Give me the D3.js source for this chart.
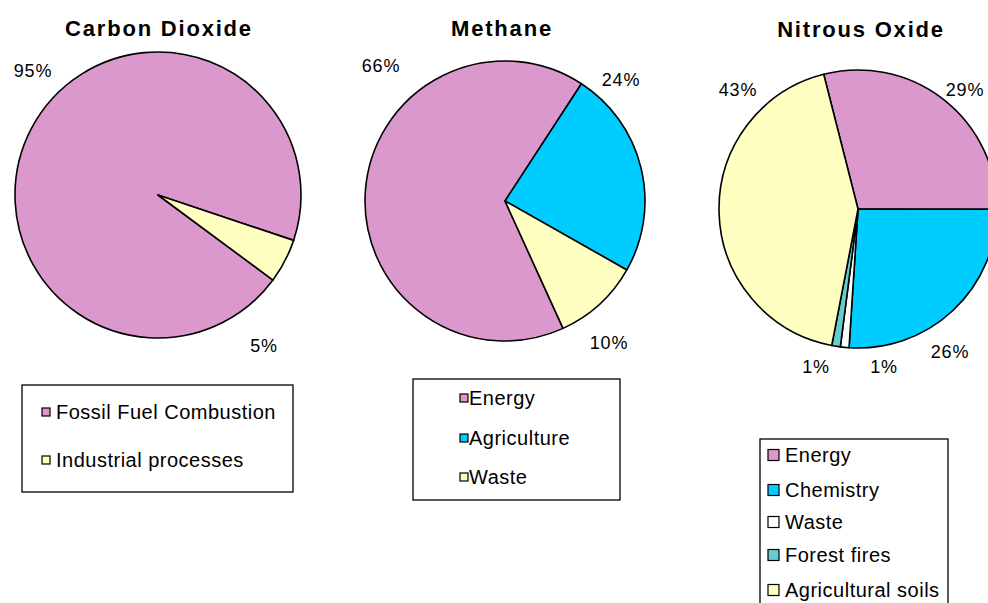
<!DOCTYPE html>
<html>
<head>
<meta charset="utf-8">
<script src="https://cdn.jsdelivr.net/npm/d3@7"></script>
<style>
  html, body { margin: 0; padding: 0; background: #fff; overflow: hidden; }
  svg { display: block; }
  text { font-family: "Liberation Sans", Arial, sans-serif; fill: #000; }
</style>
</head>
<body>
<svg id="chart" width="988" height="603"></svg>
<script>
// Greenhouse gas emissions by source (share of each gas, %)
const co2Categories = ["Fossil Fuel Combustion", "Industrial processes"];
const co2Values = [95, 5];

const ch4Categories = ["Energy", "Agriculture", "Waste"];
const ch4Values = [66, 24, 10];

const n2oCategories = ["Energy", "Chemistry", "Waste", "Forest fires", "Agricultural soils"];
const n2oValues = [29, 26, 1, 1, 43];

const colorBySource = {
  "Fossil Fuel Combustion": "#DB98CC",
  "Industrial processes": "#FFFFC2",
  "Energy": "#DB98CC",
  "Agriculture": "#00CCFF",
  "Chemistry": "#00CCFF",
  "Waste": "#FFFFFF",
  "Forest fires": "#66CCCC",
  "Agricultural soils": "#FFFFC2"
};
const ch4Colors = { "Waste": "#FFFFC2" };

const svg = d3.select("#chart");
const deg = Math.PI / 180;

const panels = [
  {
    title: "Carbon Dioxide", titleX: 159, titleY: 36,
    categories: co2Categories, values: co2Values,
    cx: 158, cy: 195, r: 143, start: 126.5,
    labels: [[33, 77], [264, 352]],
    legend: { x: 22, y: 385, w: 271, h: 107, sw: 8, itemX: 42, textX: 56, rows: [412, 460] }
  },
  {
    title: "Methane", titleX: 502, titleY: 36,
    categories: ch4Categories, values: ch4Values, override: ch4Colors,
    cx: 505, cy: 201, r: 140, start: 155.5,
    labels: [[381, 72], [621, 86], [609, 349]],
    legend: { x: 413, y: 379, w: 207, h: 121, sw: 8, itemX: 460, textX: 469, rows: [398, 438, 477] }
  },
  {
    title: "Nitrous Oxide", titleX: 861, titleY: 37,
    categories: n2oCategories, values: n2oValues,
    cx: 858, cy: 209, r: 139, start: -14.3,
    labels: [[965, 96], [950, 358], [816, 373], [884, 373], [738, 96]],
    legend: { x: 760, y: 439, w: 188, h: 180, sw: 11, itemX: 768, textX: 785, rows: [455, 490, 522, 555, 590] }
  }
];

panels.forEach(p => {
  const g = svg.append("g");
  const color = c => (p.override && p.override[c]) || colorBySource[c];

  g.append("text")
    .attr("x", p.titleX).attr("y", p.titleY)
    .attr("text-anchor", "middle")
    .attr("font-size", 22).attr("font-weight", "bold")
    .attr("letter-spacing", 1.8)
    .text(p.title);

  const pie = d3.pie().sort(null)
    .startAngle(p.start * deg)
    .endAngle(p.start * deg + 2 * Math.PI);
  const arc = d3.arc().innerRadius(0).outerRadius(p.r);
  const arcs = pie(p.values);

  const pg = g.append("g").attr("transform", `translate(${p.cx},${p.cy})`);
  pg.selectAll("path")
    .data(arcs)
    .join("path")
    .attr("d", arc)
    .attr("fill", (d, i) => color(p.categories[i]))
    .attr("stroke", "#000")
    .attr("stroke-width", 1.6)
    .attr("stroke-linejoin", "round");

  g.selectAll("text.pct")
    .data(p.values)
    .join("text")
    .attr("class", "pct")
    .attr("x", (d, i) => p.labels[i][0])
    .attr("y", (d, i) => p.labels[i][1])
    .attr("text-anchor", "middle")
    .attr("font-size", 18)
    .attr("letter-spacing", 0.8)
    .text(d => d + "%");

  const L = p.legend;
  g.append("rect")
    .attr("x", L.x).attr("y", L.y).attr("width", L.w).attr("height", L.h)
    .attr("fill", "#fff").attr("stroke", "#000").attr("stroke-width", 1.3);

  const items = g.selectAll("g.item")
    .data(p.categories)
    .join("g")
    .attr("class", "item")
    .attr("transform", (d, i) => `translate(0,${L.rows[i]})`);
  items.append("rect")
    .attr("x", L.itemX).attr("y", -L.sw / 2)
    .attr("width", L.sw).attr("height", L.sw)
    .attr("fill", d => color(d))
    .attr("stroke", "#000").attr("stroke-width", 1.2);
  items.append("text")
    .attr("x", L.textX).attr("y", 0)
    .attr("dy", "0.36em")
    .attr("font-size", 20)
    .attr("letter-spacing", 0.5)
    .text(d => d);
});
</script>
</body>
</html>
